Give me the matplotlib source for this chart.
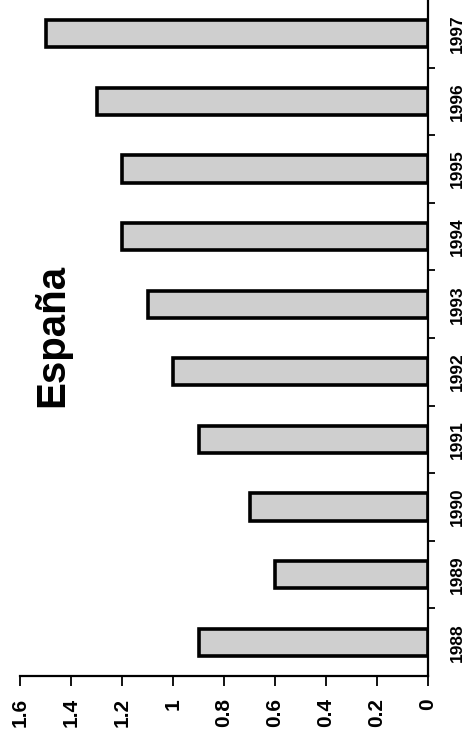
import matplotlib
matplotlib.use('Agg')
import matplotlib.pyplot as plt

# datos
years = ['1988', '1989', '1990', '1991', '1992', '1993', '1994', '1995', '1996', '1997']
values = [0.9, 0.6, 0.7, 0.9, 1.0, 1.1, 1.2, 1.2, 1.3, 1.5]
value_ticks = [0, 0.2, 0.4, 0.6, 0.8, 1, 1.2, 1.4, 1.6]
value_labels = ['0', '0.2', '0.4', '0.6', '0.8', '1', '1.2', '1.4', '1.6']

plt.rcParams['font.family'] = ['Liberation Sans', 'DejaVu Sans']

fig = plt.figure(figsize=(4.69, 7.40), dpi=100)
ax = fig.add_axes([20 / 469, 64 / 740, 408 / 469, 676 / 740])

pos = list(range(len(years)))
ax.barh(pos, values, height=0.4, color='#cfcfcf', edgecolor='black', linewidth=2.6)

ax.set_xlim(1.6, 0)
ax.set_ylim(-0.5, len(years) - 0.5)

# ejes: valores abajo, años a la derecha
ax.spines['top'].set_visible(False)
ax.spines['left'].set_visible(False)
ax.spines['right'].set_linewidth(1.6)
ax.spines['bottom'].set_linewidth(1.6)

ax.yaxis.tick_right()
ax.set_yticks(pos)
ax.set_yticklabels(years, rotation=90, va='center', fontsize=12.5, fontweight='bold')
ax.set_yticks([p + 0.5 for p in pos[:-1]], minor=True)
ax.tick_params(axis='y', which='major', length=0, pad=16)
ax.tick_params(axis='y', which='minor', length=5, width=1.3, direction='out')

ax.set_xticks(value_ticks)
ax.set_xticklabels(value_labels, rotation=90, fontsize=15, fontweight='bold')
ax.tick_params(axis='x', length=7, width=1.3, direction='out', pad=9)

fig.text(52 / 469, 1 - 335 / 740, 'España', rotation=90, fontsize=29,
         fontweight='bold', ha='center', va='center')

fig.savefig('out.png', dpi=100)
